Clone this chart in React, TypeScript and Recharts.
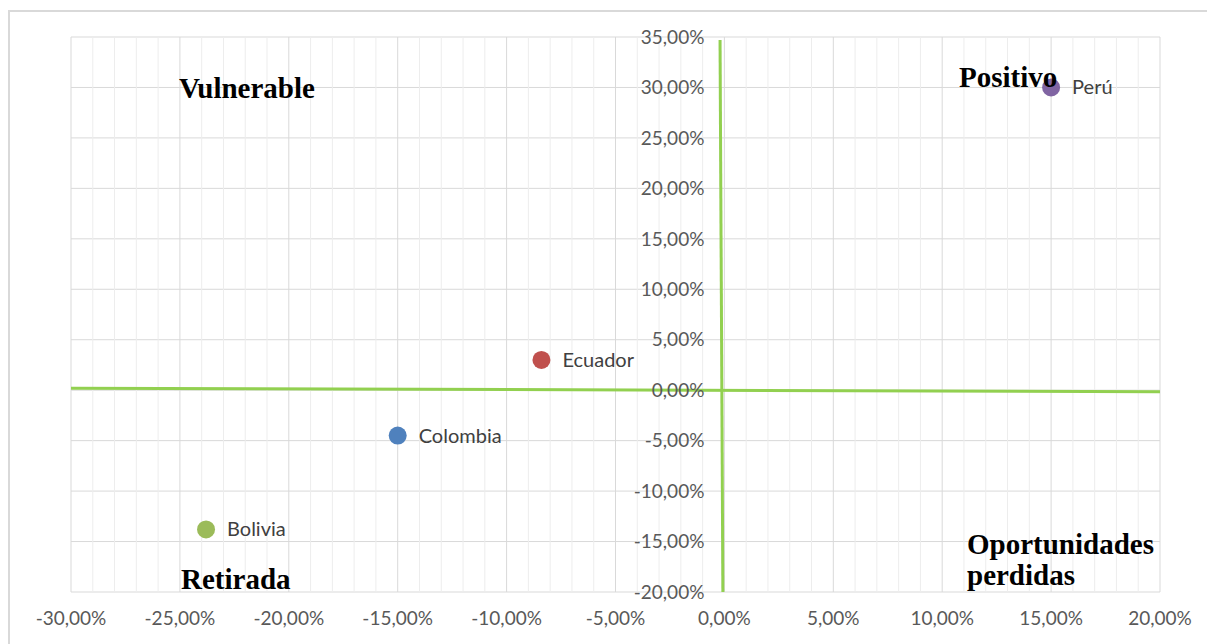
import {
  ScatterChart, Scatter, XAxis, YAxis, CartesianGrid, ReferenceLine, ReferenceDot, Cell,
} from 'recharts'

const countries = ['Perú', 'Ecuador', 'Colombia', 'Bolivia']
const growthX = [15, -8.4, -15, -23.8]
const growthY = [30, 3, -4.5, -13.8]
const COLORS = ['#8064a2', '#c0504d', '#4f81bd', '#9bbb59']

const xTicks = [-30, -25, -20, -15, -10, -5, 0, 5, 10, 15, 20]
const yTicks = [-20, -15, -10, -5, 0, 5, 10, 15, 20, 25, 30, 35]
const minorXTicks = [
  -29, -28, -27, -26, -24, -23, -22, -21, -19, -18, -17, -16, -14, -13, -12, -11,
  -9, -8, -7, -6, -4, -3, -2, -1, 1, 2, 3, 4, 6, 7, 8, 9, 11, 12, 13, 14, 16, 17, 18, 19,
]

const points = countries.map((name, i) => ({ name, x: growthX[i], y: growthY[i] }))

const SANS = 'Lato, "Noto Sans", sans-serif'
const fmt = (v: number) => `${v.toFixed(2).replace('.', ',')}%`

const quadStyle: React.CSSProperties = {
  position: 'absolute',
  fontFamily: '"Liberation Serif", "Times New Roman", serif',
  fontWeight: 700,
  fontSize: 29,
  lineHeight: '29px',
  color: '#000',
  whiteSpace: 'nowrap',
}

function CountryDot(props: any) {
  const { cx, cy, fill, payload } = props
  return (
    <g>
      <circle cx={cx} cy={cy} r={9} fill={fill} />
      <text x={cx + 21} y={cy} dy="0.35em" fill="#404040" fontSize={20} fontFamily={SANS}>
        {payload.name}
      </text>
    </g>
  )
}

export default function App() {
  return (
    <div
      style={{
        position: 'absolute', left: 8, top: 10, width: 1199, height: 634,
        boxSizing: 'border-box', borderTop: '2px solid #d9d9d9', borderLeft: '2px solid #d9d9d9',
        background: '#fff',
      }}
    >
      <ScatterChart width={1197} height={632} margin={{ top: 25, right: 47, bottom: 12, left: 61 }}>
        {minorXTicks.map(v => (
          <ReferenceLine key={v} x={v} stroke="#ededed" strokeWidth={1} />
        ))}
        <CartesianGrid stroke="#d9d9d9" strokeWidth={1} />
        <XAxis
          type="number"
          dataKey="x"
          domain={[-30, 20]}
          ticks={xTicks}
          tickFormatter={fmt}
          axisLine={false}
          tickLine={false}
          tickMargin={14}
          height={40}
          interval={0}
          tick={{ fill: '#595959', fontSize: 19, fontFamily: SANS }}
        />
        <YAxis type="number" dataKey="y" domain={[-20, 35]} ticks={yTicks} hide />
        {yTicks.map(v => (
          <ReferenceDot
            key={v}
            x={0}
            y={v}
            r={0}
            fill="none"
            stroke="none"
            ifOverflow="visible"
            label={{ value: fmt(v), position: 'left', offset: 20, fill: '#595959', fontSize: 19, fontFamily: SANS }}
          />
        ))}
        <ReferenceLine
          segment={[{ x: -30, y: 0.2 }, { x: 20, y: -0.15 }]}
          stroke="#92d050"
          strokeWidth={3}
          ifOverflow="visible"
        />
        <ReferenceLine
          segment={[{ x: -0.2, y: 34.7 }, { x: -0.07, y: -20 }]}
          stroke="#92d050"
          strokeWidth={3}
          ifOverflow="visible"
        />
        <Scatter data={points} shape={<CountryDot />} isAnimationActive={false}>
          {points.map((p, i) => (
            <Cell key={p.name} fill={COLORS[i]} />
          ))}
        </Scatter>
      </ScatterChart>
      <div style={{ ...quadStyle, left: 169, top: 62 }}>Vulnerable</div>
      <div style={{ ...quadStyle, left: 949, top: 51 }}>Positivo</div>
      <div style={{ ...quadStyle, left: 171, top: 553 }}>Retirada</div>
      <div style={{ ...quadStyle, left: 957, top: 517, lineHeight: '31px' }}>
        Oportunidades
        <br />
        perdidas
      </div>
    </div>
  )
}
